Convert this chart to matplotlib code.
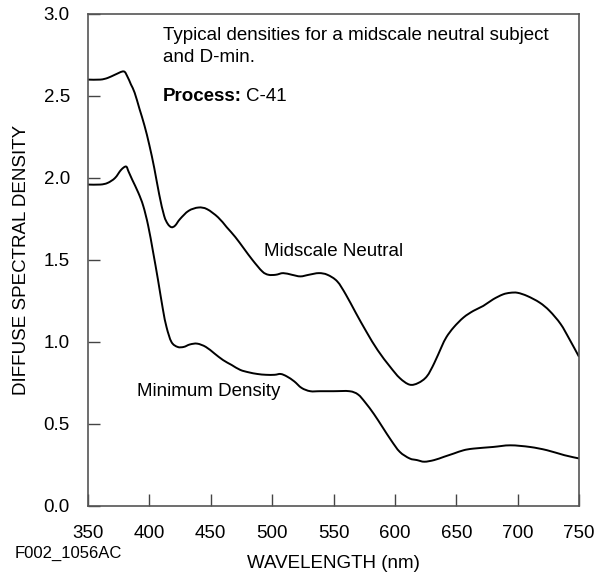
import numpy as np
import matplotlib
matplotlib.use('Agg')
import matplotlib.pyplot as plt
from matplotlib.path import Path
from matplotlib.patches import PathPatch

plt.rcParams['font.family'] = ['Liberation Sans', 'DejaVu Sans']

# curves (wavelength nm, diffuse density)
mid_wl = [350, 360, 366, 372, 379, 382, 385, 388, 392, 396, 400, 404, 408, 412, 415, 418, 421, 425, 432, 440, 447, 456, 463, 470, 477, 484, 492, 497, 503, 509, 516, 523, 530, 538, 545, 553, 560, 568, 577, 586, 596, 604, 612, 619, 626, 632, 638, 642, 648, 656, 664, 672, 680, 688, 694, 700, 708, 718, 726, 735, 742, 750]
mid_d = [2.60, 2.60, 2.61, 2.63, 2.65, 2.62, 2.57, 2.52, 2.42, 2.32, 2.20, 2.06, 1.90, 1.77, 1.72, 1.70, 1.71, 1.75, 1.80, 1.82, 1.81, 1.76, 1.70, 1.64, 1.57, 1.50, 1.43, 1.41, 1.41, 1.42, 1.41, 1.40, 1.41, 1.42, 1.41, 1.37, 1.29, 1.18, 1.06, 0.95, 0.85, 0.78, 0.74, 0.75, 0.79, 0.87, 0.97, 1.03, 1.09, 1.15, 1.19, 1.22, 1.26, 1.29, 1.30, 1.30, 1.28, 1.24, 1.19, 1.11, 1.02, 0.91]

min_wl = [350, 360, 366, 372, 377, 381, 383, 386, 391, 395, 399, 403, 407, 411, 414, 418, 423, 428, 433, 439, 446, 453, 460, 467, 474, 481, 488, 495, 502, 507, 512, 518, 524, 531, 539, 550, 563, 570, 576, 583, 590, 597, 604, 612, 618, 624, 632, 640, 648, 656, 664, 680, 694, 710, 724, 738, 750]
min_d = [1.96, 1.96, 1.97, 2.00, 2.05, 2.07, 2.04, 1.99, 1.91, 1.83, 1.71, 1.55, 1.38, 1.20, 1.09, 1.00, 0.97, 0.97, 0.985, 0.99, 0.97, 0.93, 0.89, 0.86, 0.83, 0.815, 0.805, 0.80, 0.80, 0.805, 0.79, 0.76, 0.72, 0.70, 0.70, 0.70, 0.70, 0.68, 0.63, 0.56, 0.48, 0.40, 0.33, 0.29, 0.28, 0.27, 0.28, 0.30, 0.32, 0.34, 0.35, 0.36, 0.37, 0.36, 0.34, 0.31, 0.29]

x_ticks = [350, 400, 450, 500, 550, 600, 650, 700, 750]
y_ticks = [0.0, 0.5, 1.0, 1.5, 2.0, 2.5, 3.0]


def smooth_path(xs, ys):
    # catmull-rom through the read points, drawn as cubic bezier segments
    p = np.column_stack([xs, ys]).astype(float)
    verts = [p[0]]
    codes = [Path.MOVETO]
    for i in range(len(p) - 1):
        p0 = p[i - 1] if i > 0 else p[i]
        p3 = p[i + 2] if i + 2 < len(p) else p[i + 1]
        c1 = p[i] + (p[i + 1] - p0) / 6
        c2 = p[i + 1] - (p3 - p[i]) / 6
        verts += [c1, c2, p[i + 1]]
        codes += [Path.CURVE4] * 3
    return Path(verts, codes)


fs = 13.5
fig = plt.figure(figsize=(5.95, 5.75), dpi=100)
ax = fig.add_axes([88 / 595, 1 - 506 / 575, 491 / 595, 492 / 575])

for xs, ys in [(mid_wl, mid_d), (min_wl, min_d)]:
    ax.add_patch(PathPatch(smooth_path(xs, ys), fill=False, edgecolor='black',
                           lw=1.4, joinstyle='round', capstyle='butt'))

ax.set_xlim(350, 750)
ax.set_ylim(0, 3.0)
ax.set_xticks(x_ticks)
ax.set_yticks(y_ticks)
ax.set_yticklabels(['%.1f' % v for v in y_ticks])
ax.tick_params(direction='in', length=8.7, width=1, color='#444444', labelsize=fs)
ax.tick_params(axis='x', pad=14)
ax.tick_params(axis='y', pad=13)
for s in ax.spines.values():
    s.set_color('#555555')
    s.set_linewidth(1.2)

ax.set_xlabel('WAVELENGTH (nm)', fontsize=fs, labelpad=9)
ax.set_ylabel('DIFFUSE SPECTRAL DENSITY', fontsize=fs, labelpad=10)

ax.text(0.153, 0.957, 'Typical densities for a midscale neutral subject',
        transform=ax.transAxes, fontsize=fs, va='center')
ax.text(0.153, 0.911, 'and D-min.', transform=ax.transAxes, fontsize=fs, va='center')
t = ax.text(0.153, 0.833, 'Process:', transform=ax.transAxes, fontsize=fs,
            va='center', fontweight='bold')
ax.annotate('C-41', xy=(1, 0), xycoords=t, xytext=(3, 0), textcoords='offset points',
            fontsize=fs, va='bottom')
ax.text(550, 1.55, 'Midscale Neutral', fontsize=fs, ha='center', va='center')
ax.text(448, 0.70, 'Minimum Density', fontsize=fs, ha='center', va='center')
fig.text(15 / 595, 1 - 553 / 575, 'F002_1056AC', fontsize=12, va='center')

fig.savefig('out.png', dpi=100)
